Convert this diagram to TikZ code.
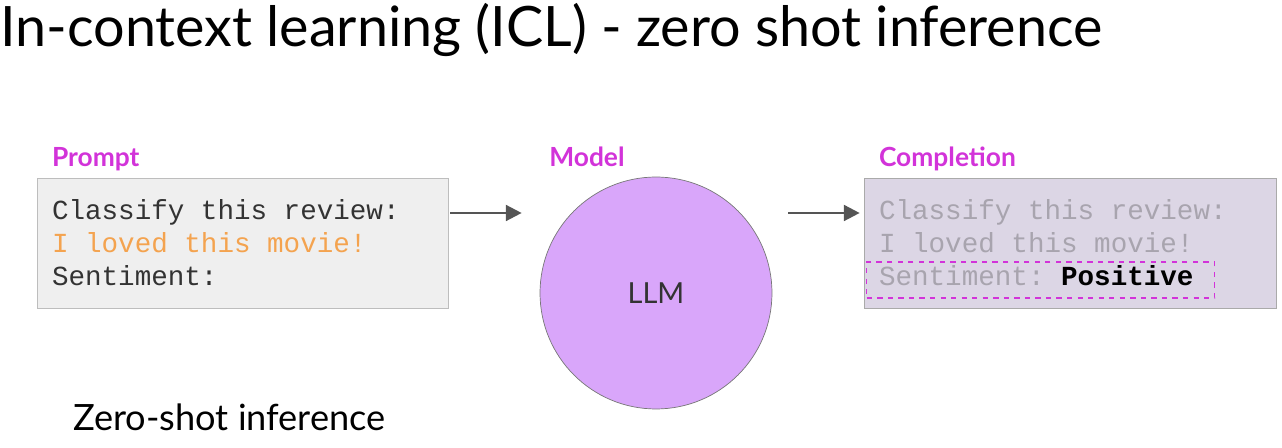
\documentclass[tikz,border=0pt]{standalone}
\usepackage{fontspec}
\setmainfont{Lato}
\setmonofont{Liberation Mono}
\usetikzlibrary{arrows.meta, positioning, calc, shapes.geometric}
\definecolor{tagMagenta}{HTML}{D233D9}
\definecolor{textDark}{HTML}{333333}
\definecolor{promptFill}{HTML}{EFEFEF}
\definecolor{promptLine}{HTML}{BDBDBD}
\definecolor{reviewOrange}{HTML}{F4A34F}
\definecolor{llmFill}{HTML}{D9A6FA}
\definecolor{llmLine}{HTML}{777777}
\definecolor{complFill}{HTML}{DCD6E5}
\definecolor{complLine}{HTML}{AAAAAA}
\definecolor{complText}{HTML}{A8A4AE}
\definecolor{arrowGray}{HTML}{555555}
% espacio de ancho fijo (un caracter de la fuente mono)
\newcommand{\blanco}{\hspace*{9.42pt}}

\begin{document}
\begin{tikzpicture}[x=0.02cm, y=-0.02cm,
    etiqueta/.style={font=\bfseries\fontsize{15}{17}\selectfont, text=tagMagenta,
                     inner sep=0pt, anchor=base west},
    cajatexto/.style={rectangle, minimum height=2.6cm, inner xsep=0.3cm, inner ysep=0pt,
                      text width=7.62cm, align=left,
                      font=\ttfamily\fontsize{15.7}{18.7}\selectfont},
    flecha/.style={draw=arrowGray, line width=1.4pt,
                   -{Triangle[length=9pt,width=9pt]}}]
  \useasboundingbox (0,0) rectangle (1282,448);
  % titulo
  \node[anchor=base west, inner sep=0pt, font=\fontsize{31.7}{36}\selectfont]
        (titulo) at (0,47) {In-context learning (ICL) - zero shot inference};
  % prompt
  \node[cajatexto, fill=promptFill, draw=promptLine, text=textDark]
        (prompt) at (242.5,243)
        {Classify\blanco this\blanco review:\\
         \textcolor{reviewOrange}{I\blanco loved\blanco this\blanco movie!}\\
         Sentiment:};
  \node[etiqueta] (lblprompt) at ($(prompt.north west)+(15,-11)$) {Prompt};
  % modelo
  \node[circle, minimum size=4.64cm, inner sep=0pt, fill=llmFill, draw=llmLine,
        font=\fontsize{16.5}{18}\selectfont, text=textDark]
        (llm) at (656,293) {LLM};
  \node[etiqueta] (lblmodel) at ($(llm.north)+(-107,-10)$) {Model};
  % completion
  \node[cajatexto, text width=7.64cm, fill=complFill, draw=complLine, text=complText]
        (compl) at (1070,243)
        {Classify\blanco this\blanco review:\\
         I\blanco loved\blanco this\blanco movie!\\
         Sentiment:\blanco\textcolor{black}{\bfseries Positive}};
  \node[etiqueta] (lblcompl) at ($(compl.north west)+(15,-11)$) {Completion};
  \node[draw=tagMagenta, dashed, line width=0.8pt, minimum width=6.96cm,
        minimum height=0.72cm, inner sep=0pt]
        (answer) at ($(compl.west)+(177,37)$) {};
  % flechas
  \draw[flecha] ($(prompt.east)+(2,-30)$) -- ($(llm.west)+(-18,-80)$);
  \draw[flecha] ($(llm.east)+(16,-80)$) -- ($(compl.west)+(-4,-30)$);
  % pie
  \node[anchor=base west, inner sep=0pt, font=\fontsize{20.6}{24}\selectfont]
        (pie) at (73,431) {Zero-shot inference};
\end{tikzpicture}
\end{document}
